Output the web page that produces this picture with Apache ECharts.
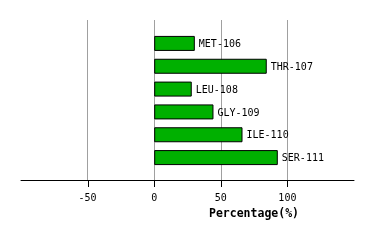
<!DOCTYPE html>
<html><head><meta charset="utf-8">
<script src="https://cdn.jsdelivr.net/npm/echarts@6/dist/echarts.min.js"></script>
<style>html,body{margin:0;padding:0;background:#fff}#c{width:374px;height:240px}</style>
</head><body><div id="c"></div>
<script>
const categories = ["MET-106","THR-107","LEU-108","GLY-109","ILE-110","SER-111"];
const values = [30.5, 84.5, 28.2, 44.5, 66.3, 92.8];
const tickValues = [-50, 0, 50, 100];
const axisTitle = "Percentage(%)";

const font = "DejaVu Sans Mono";
const chart = echarts.init(document.getElementById('c'), null, {renderer:'canvas'});
chart.setOption({
  animation:false,
  grid:[
    {left:21, right:20, top:20, bottom:60},
    {left:21, right:20, top:32, height:137}
  ],
  xAxis:[
    {gridIndex:0, type:'value', min:-100, max:150,
     axisLine:{show:true, onZero:false, lineStyle:{color:'#000', width:1}},
     axisTick:{show:false},
     axisLabel:{color:'#000', fontFamily:font, fontSize:10, margin:13,
       customValues: tickValues},
     splitLine:{show:false}
    },
    {gridIndex:1, type:'value', min:-100, max:150, show:false},
    {gridIndex:0, type:'value', min:-100, max:150, interval:50,
     axisLine:{show:false}, axisTick:{show:false}, axisLabel:{show:false},
     splitLine:{show:true, lineStyle:{color:'#a0a0a0', width:1},
       showMinLine:false, showMaxLine:false}
    }
  ],
  yAxis:[
    {gridIndex:0, type:'value', min:0, max:1, show:false},
    {gridIndex:1, type:'category', data:categories, inverse:true, show:false}
  ],
  series:[{
    type:'bar', xAxisIndex:1, yAxisIndex:1, data:values, barWidth:15, z:3,
    itemStyle:{color:'#00b000', borderColor:'#000', borderWidth:1},
    label:{show:true, position:'right', distance:4, color:'#000',
      fontFamily:font, fontSize:10, offset:[0,1],
      formatter:p=>categories[p.dataIndex]}
  }, {
    type:'custom', xAxisIndex:0, yAxisIndex:0, clip:false, silent:true, z:10,
    data: tickValues.map(v => [v, 0]),
    renderItem: (params, api) => {
      const p = api.coord([api.value(0), api.value(1)]);
      return {type:'rect', shape:{x:Math.round(p[0]), y:Math.round(p[1]), width:1, height:7},
        style:{fill:'#000'}};
    }
  }],
  graphic:[{type:'text', left:209, top:208,
    style:{text:axisTitle, fill:'#000', font:'bold 11.5px "DejaVu Sans Mono"'}}]
});
</script></body></html>
